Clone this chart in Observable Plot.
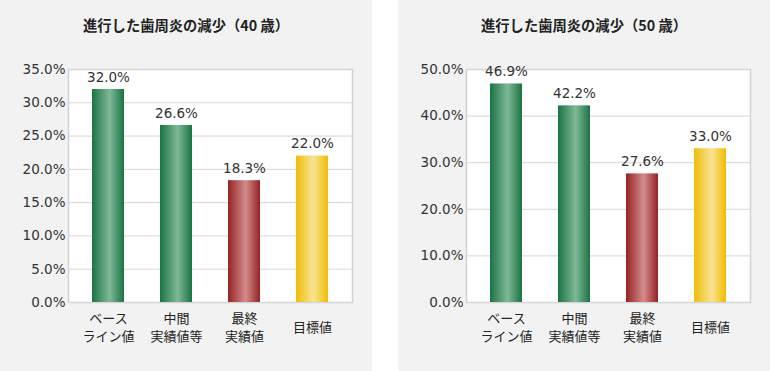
<!DOCTYPE html>
<html>
<head>
<meta charset="utf-8">
<script src="https://cdn.jsdelivr.net/npm/d3@7"></script>
<script src="https://cdn.jsdelivr.net/npm/@observablehq/plot@0.6"></script>
<style>
  html, body { margin: 0; padding: 0; background: #ffffff; }
  #wrap { position: relative; width: 770px; height: 371px; overflow: hidden; }
  .panel { position: absolute; top: 0; width: 372px; height: 371px; background: #f2f2f2; }
  .title { position: absolute; top: 15px; left: 0; width: 372px; text-align: center;
           font-family: "Noto Sans CJK JP", sans-serif; font-weight: bold; font-size: 14.3px; color: #222; line-height: 20px; }
  .panel svg { position: absolute; top: 0; left: 0; }
</style>
</head>
<body>
<div id="wrap">
  <div class="panel" id="p1" style="left:0px"><div class="title">進行した歯周炎の減少（40 歳）</div></div>
  <div class="panel" id="p2" style="left:398px"><div class="title">進行した歯周炎の減少（50 歳）</div></div>
</div>
<script>
const categories = ["ベース\nライン値", "中間\n実績値等", "最終\n実績値", "目標値"];
const colorKeys = ["green", "green", "red", "yellow"];
const values40 = [32.0, 26.6, 18.3, 22.0];
const values50 = [46.9, 42.2, 27.6, 33.0];
const ticks40 = [0, 5, 10, 15, 20, 25, 30, 35];
const ticks50 = [0, 10, 20, 30, 40, 50];

const gradients = {
  green: ["#1b7444", "#7fb898", "#1b7444"],
  red: ["#962224", "#d38c8c", "#962224"],
  yellow: ["#f0bd08", "#f8e394", "#f0bd00"]
};

const numFont = "'DejaVu Sans', sans-serif";
const jpFont = "'Noto Sans CJK JP', sans-serif";

function makeChart(values, ticks, maxY, prefix) {
  const data = categories.map((c, i) => ({cat: c, value: values[i], color: colorKeys[i]}));
  const chart = Plot.plot({
    width: 372,
    height: 371,
    marginTop: 69,
    marginBottom: 69,
    marginLeft: 68,
    marginRight: 20,
    style: {background: "transparent", fontFamily: numFont, color: "#333"},
    x: {domain: categories, paddingInner: 0.536, paddingOuter: 0.326, axis: null},
    y: {domain: [0, maxY], axis: null},
    color: {type: "identity"},
    marks: [
      Plot.frame({fill: "white", stroke: "#d2d2d2", strokeWidth: 1.5}),
      Plot.gridY(ticks, {stroke: "#d6d6d6", strokeOpacity: 1}),
      Plot.axisY(ticks, {
        label: null, tickSize: 0, tickPadding: 3, tickFormat: d => d.toFixed(1) + "%",
        fontSize: 13.5, fill: "#333", style: "letter-spacing:0.3px"
      }),
      Plot.barY(data, {x: "cat", y: "value", fill: d => `url(#${prefix}-${d.color})`}),
      Plot.text(data, {
        x: "cat", y: "value", text: d => d.value.toFixed(1) + "%",
        dy: -12, fontSize: 13.5, fill: "#333", style: "letter-spacing:0.3px"
      }),
      Plot.text(data, {
        x: "cat", text: "cat", frameAnchor: "bottom", dy: 24,
        lineAnchor: "middle", lineHeight: 1.4, fontSize: 13,
        fontFamily: jpFont, fill: "#222"
      })
    ]
  });
  const svg = d3.select(chart);
  const defs = svg.insert("defs", ":first-child");
  for (const [key, stops] of Object.entries(gradients)) {
    const g = defs.append("linearGradient").attr("id", `${prefix}-${key}`)
      .attr("x1", "0").attr("x2", "1").attr("y1", "0").attr("y2", "0");
    g.append("stop").attr("offset", "0").attr("stop-color", stops[0]);
    g.append("stop").attr("offset", "0.55").attr("stop-color", stops[1]);
    g.append("stop").attr("offset", "1").attr("stop-color", stops[2]);
  }
  return chart;
}

document.getElementById("p1").appendChild(makeChart(values40, ticks40, 35, "a"));
document.getElementById("p2").appendChild(makeChart(values50, ticks50, 50, "b"));
</script>
</body>
</html>
